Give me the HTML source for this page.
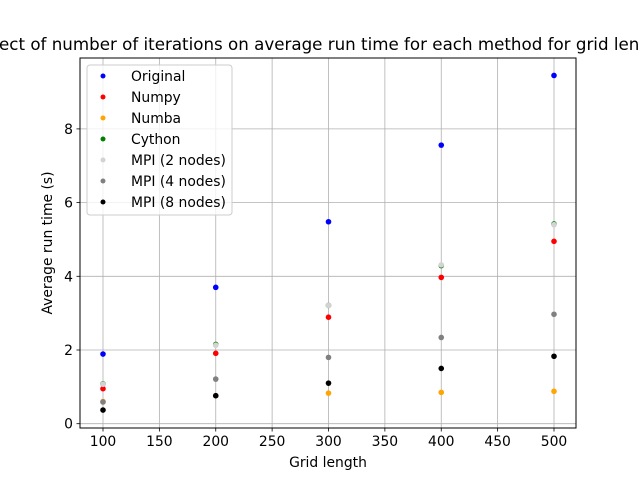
<!DOCTYPE html>
<html><head><meta charset="utf-8"><style>
body{margin:0;background:#fff;}
svg{font-family:"DejaVu Sans","Liberation Sans",sans-serif;}
</style></head><body>
<svg id="chart" width="640" height="480" viewBox="0 0 640 480">
<rect width="640" height="480" fill="#fff"/>
<g id="grid"></g>
<g id="marks"></g>
<rect x="80" y="58" width="496" height="370" fill="none" stroke="#000" stroke-width="1"/>
<g id="xticks"></g><g id="yticks"></g>
<text x="322" y="50" text-anchor="middle" font-size="16.7">Effect of number of iterations on average run time for each method for grid length</text>
<text x="328" y="467" text-anchor="middle" font-size="13.9">Grid length</text>
<text transform="translate(52,243) rotate(-90)" text-anchor="middle" font-size="13.9">Average run time (s)</text>
<g id="legend"></g>
</svg>
<script>
const gridLengths=[100,200,300,400,500];
const seriesNames=["Original","Numpy","Numba","Cython","MPI (2 nodes)","MPI (4 nodes)","MPI (8 nodes)"];
const seriesColors=["#0000ff","#ff0000","#ffa500","#008000","#d3d3d3","#808080","#000000"];
const original=[1.89,3.70,5.48,7.56,9.45];
const numpy=[0.95,1.91,2.89,3.97,4.95];
const numba=[0.60,0.76,0.83,0.85,0.88];
const cython=[1.08,2.15,3.21,4.29,5.42];
const mpi2=[1.07,2.13,3.21,4.31,5.40];
const mpi4=[0.59,1.21,1.80,2.34,2.97];
const mpi8=[0.37,0.76,1.10,1.50,1.83];
const xTicks=[100,150,200,250,300,350,400,450,500];
const yTicks=[0,2,4,6,8];
const allSeries=[original,numpy,numba,cython,mpi2,mpi4,mpi8];
const NS="http://www.w3.org/2000/svg";
function xs(v){return 103+(v-100)*451/400;}
function ys(v){return 423.7-v*36.85;}
function mk(tag,attrs,parent){const e=document.createElementNS(NS,tag);for(const k in attrs)e.setAttribute(k,attrs[k]);parent.appendChild(e);return e;}
const grid=document.getElementById('grid'),marks=document.getElementById('marks');
const xt=document.getElementById('xticks'),yt=document.getElementById('yticks');
xTicks.forEach(t=>{const x=xs(t);
 const g=mk('line',{x1:x,x2:x,y1:58,y2:428,stroke:'#b0b0b0','stroke-width':0.8},grid);
 
 
 const tk=mk('line',{x1:x,x2:x,y1:428,y2:431.5,stroke:'#000','stroke-width':0.8},xt);
 
 
 const tx=mk('text',{x:x,y:446,'text-anchor':'middle','font-size':13.9},xt);tx.textContent=t;
 
 
});
yTicks.forEach(t=>{const y=ys(t);
 const g=mk('line',{x1:80,x2:576,y1:y,y2:y,stroke:'#b0b0b0','stroke-width':0.8},grid);
 
 
 const tk=mk('line',{x1:76.5,x2:80,y1:y,y2:y,stroke:'#000','stroke-width':0.8},yt);
 
 
 const tx=mk('text',{x:73,y:y+5,'text-anchor':'end','font-size':13.9},yt);tx.textContent=t;
 
 
});
allSeries.forEach((s,i)=>{s.forEach((v,j)=>{
 const c=mk('circle',{cx:xs(gridLengths[j]),cy:ys(v),r:2.8,fill:seriesColors[i]},marks);
 
 
});});
const lg=document.getElementById('legend');
const box=mk('rect',{x:87,y:65,width:145,height:150,rx:3,fill:'#fff','fill-opacity':0.8,stroke:'#cccccc'},lg);


seriesNames.forEach((n,i)=>{const y=76+i*21;
 const c=mk('circle',{cx:103,cy:y,r:2.5,fill:seriesColors[i]},lg);
 
 
 const t=mk('text',{x:131,y:y+5,'font-size':13.9},lg);t.textContent=n;
 
 
});
</script>
</body></html>
